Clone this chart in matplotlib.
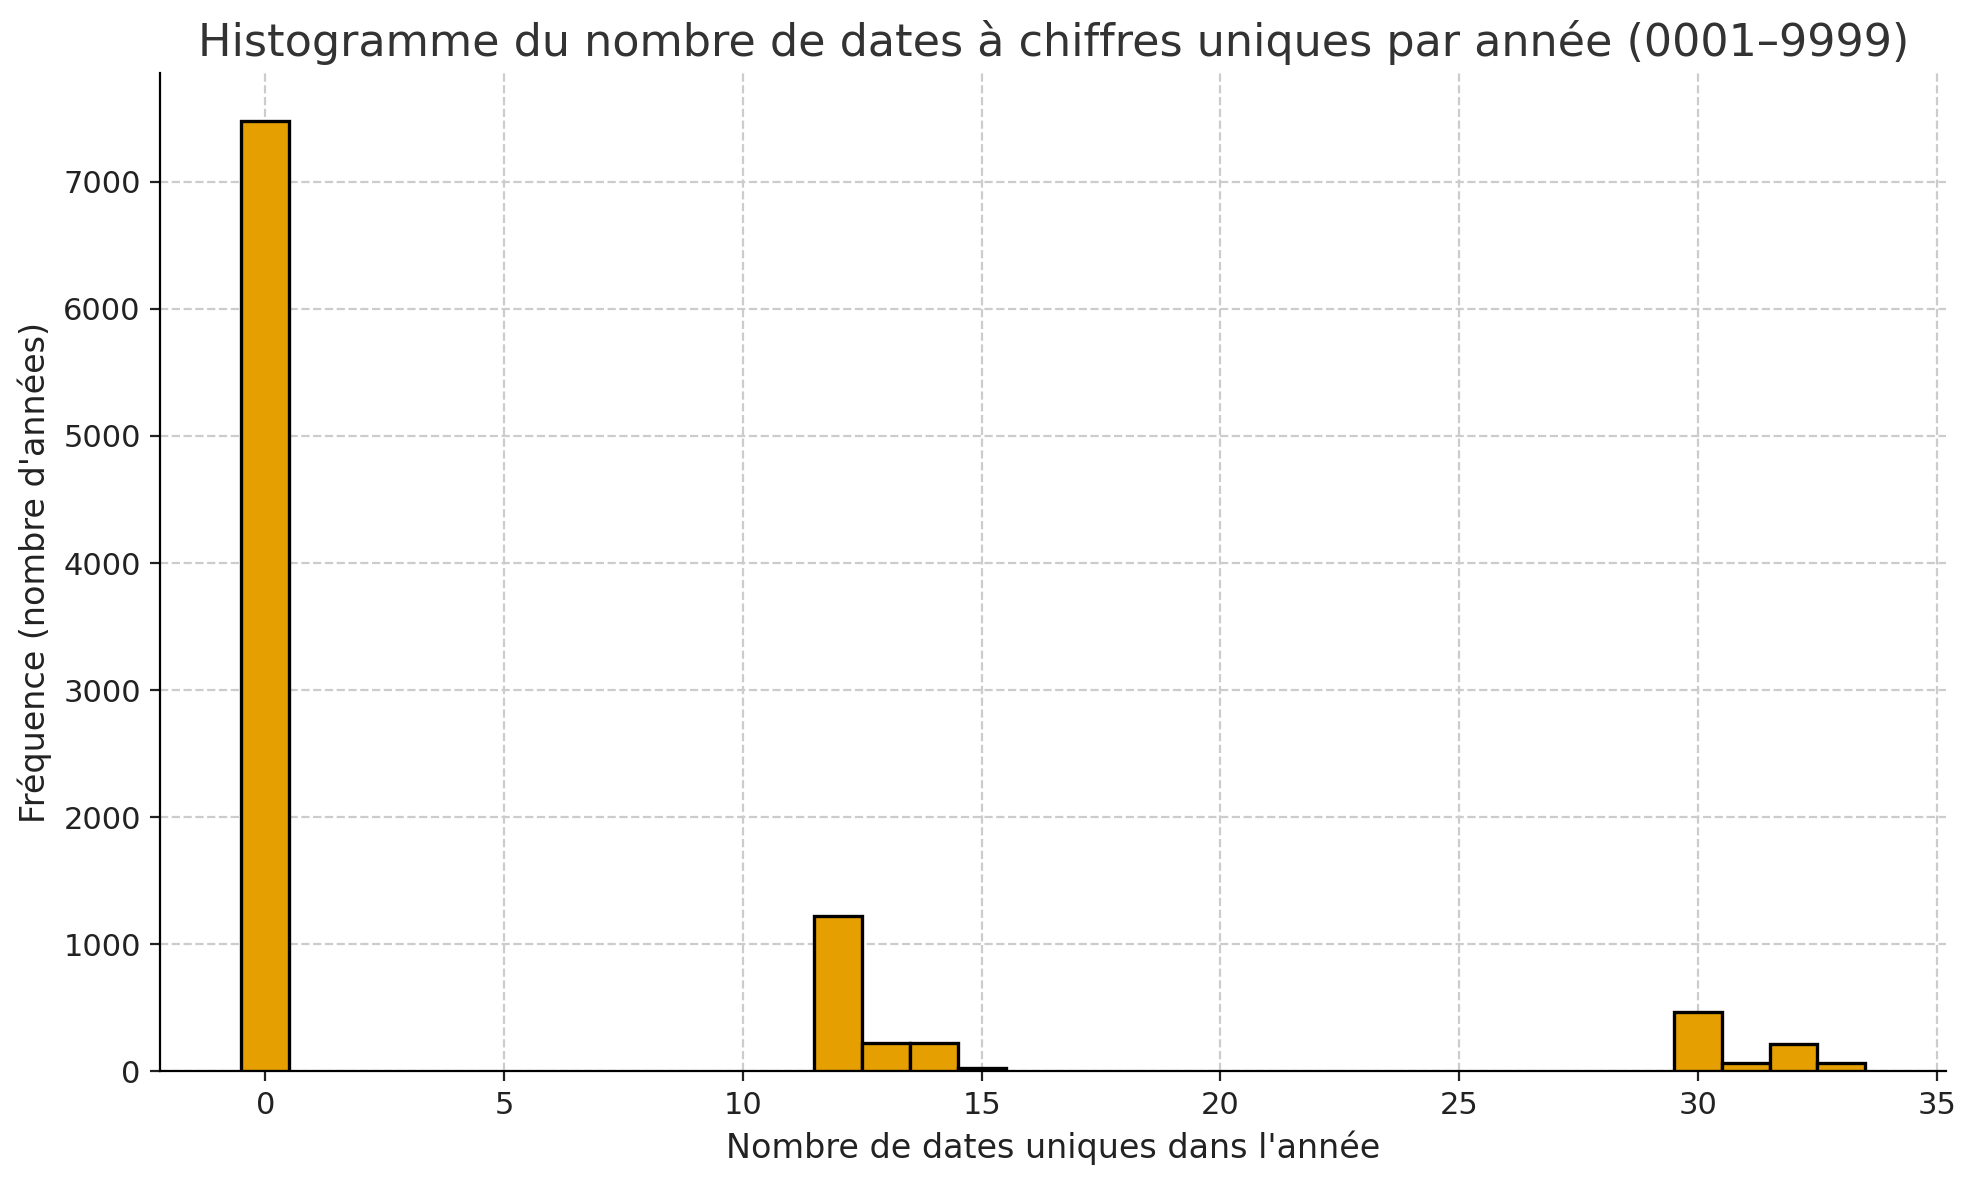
import matplotlib
matplotlib.use("Agg")
import matplotlib.pyplot as plt

# nombre de dates uniques -> nombre d'années
counts_x = [0, 12, 13, 14, 15, 30, 31, 32, 33]
counts_y = [7480, 1225, 220, 220, 24, 471, 66, 215, 66]

fig, ax = plt.subplots(figsize=(9.89, 5.9), dpi=200)

ax.bar(counts_x, counts_y, width=1.0, color="#E69F00", edgecolor="black", linewidth=1.2, zorder=3)

ax.set_title("Histogramme du nombre de dates à chiffres uniques par année (0001–9999)",
             fontsize=16, color="#333333")
ax.set_xlabel("Nombre de dates uniques dans l'année", fontsize=12, color="#222222")
ax.set_ylabel("Fréquence (nombre d'années)", fontsize=12, color="#222222")
ax.tick_params(labelsize=11, colors="#222222")
ax.grid(True, linestyle="--", color="#cccccc", linewidth=0.8)
ax.set_axisbelow(True)
for s in ("top", "right"):
    ax.spines[s].set_visible(False)
ax.set_xticks(range(0, 36, 5))

fig.subplots_adjust(left=0.081, right=0.984, top=0.938, bottom=0.092)
fig.savefig("out.png", dpi=200)
